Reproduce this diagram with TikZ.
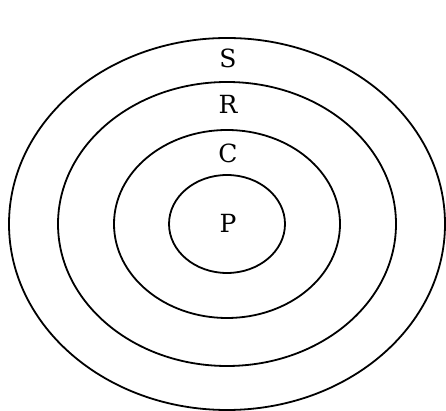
\documentclass[tikz,border=0pt]{standalone}
\usepackage{fontspec}
\setmainfont{DejaVu Serif}
\begin{document}
\begin{tikzpicture}[x=1pt,y=1pt,line width=1.8pt]
   \useasboundingbox (0,0) rectangle (446,411);
   \coordinate (o) at (227,187);
   \foreach \rx/\ry in {218/186, 169/142, 113/94, 58/49}
     \draw (o) ellipse ({\rx} and {\ry});
   \foreach \n/\y in
     { s/353,
       r/307,
       c/258,
       p/188
     }
     \node[inner sep=0pt,font=\fontsize{25}{30}\selectfont] (\n) at (228,\y) {\MakeUppercase{\n}};
\end{tikzpicture}
\end{document}
